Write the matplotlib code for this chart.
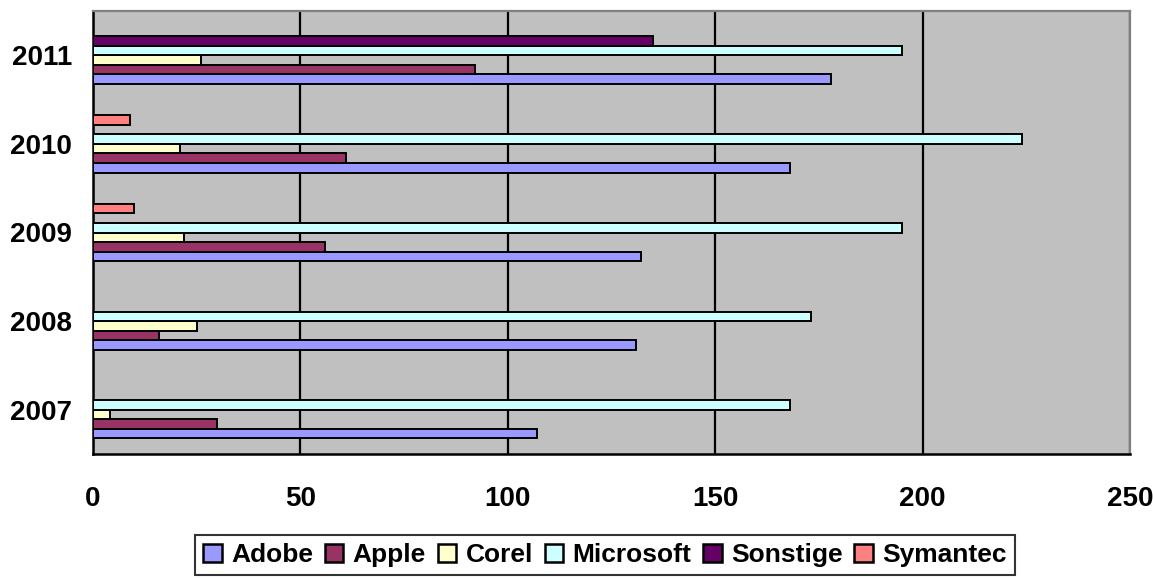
import numpy as np
import matplotlib
matplotlib.use("Agg")
import matplotlib.pyplot as plt

years = ["2007", "2008", "2009", "2010", "2011"]
series_names = ["Adobe", "Apple", "Corel", "Microsoft", "Sonstige", "Symantec"]
adobe = [107, 131, 132, 168, 178]
apple = [30, 16, 56, 61, 92]
corel = [4, 25, 22, 21, 26]
microsoft = [168, 173, 195, 224, 195]
sonstige = [np.nan, np.nan, np.nan, np.nan, 135]
symantec = [np.nan, np.nan, 10, 9, np.nan]
x_ticks = [0, 50, 100, 150, 200, 250]

colors = ["#9999FF", "#993366", "#FFFFCC", "#CCFFFF", "#660066", "#FF8080"]
series = [adobe, apple, corel, microsoft, sonstige, symantec]

plt.rcParams['font.family'] = ['Liberation Sans', 'DejaVu Sans']
plt.rcParams['font.weight'] = 'bold'

fig = plt.figure(figsize=(11.53, 5.79), dpi=100)
ax = fig.add_axes([93 / 1153, 1 - 454 / 579, (1130 - 93) / 1153, (454 - 11) / 579])
ax.set_facecolor("#C0C0C0")

h = 0.108
ypos = np.arange(len(years))
n = len(series)
for i, (name, vals, c) in enumerate(zip(series_names, series, colors)):
    off = (i - (n - 1) / 2) * h
    ax.barh(ypos + off, vals, height=h, color=c, edgecolor="black",
            linewidth=1.4, label=name, zorder=3)

ax.set_xlim(0, 250)
ax.set_ylim(-0.5, len(years) - 0.5)
ax.set_xticks(x_ticks)
ax.set_xticklabels([str(t) for t in x_ticks])
ax.set_yticks(ypos)
ax.set_yticklabels(years)
ax.tick_params(axis='both', length=0, labelsize=20)
ax.tick_params(axis='x', pad=23)
ax.tick_params(axis='y', pad=15)
ax.xaxis.grid(True, color="black", linewidth=1.6, zorder=0)
ax.set_axisbelow(True)
for s in ["left", "bottom"]:
    ax.spines[s].set_color("black")
    ax.spines[s].set_linewidth(1.8)
for s in ["top", "right"]:
    ax.spines[s].set_color("#808080")
    ax.spines[s].set_linewidth(1.6)

leg = fig.legend(loc="center", bbox_to_anchor=(605 / 1153, 1 - 555 / 579),
                 ncol=6, fontsize=19, frameon=True, fancybox=False,
                 handlelength=0.7, handleheight=0.7, handletextpad=0.35,
                 columnspacing=0.45, borderpad=0.3, borderaxespad=0)
leg.get_frame().set_edgecolor("black")
leg.get_frame().set_linewidth(1.5)
for p in leg.get_patches():
    p.set_linewidth(1.8)
for t in leg.get_texts():
    t.set_fontweight('bold')

fig.savefig("out.png", dpi=100)
